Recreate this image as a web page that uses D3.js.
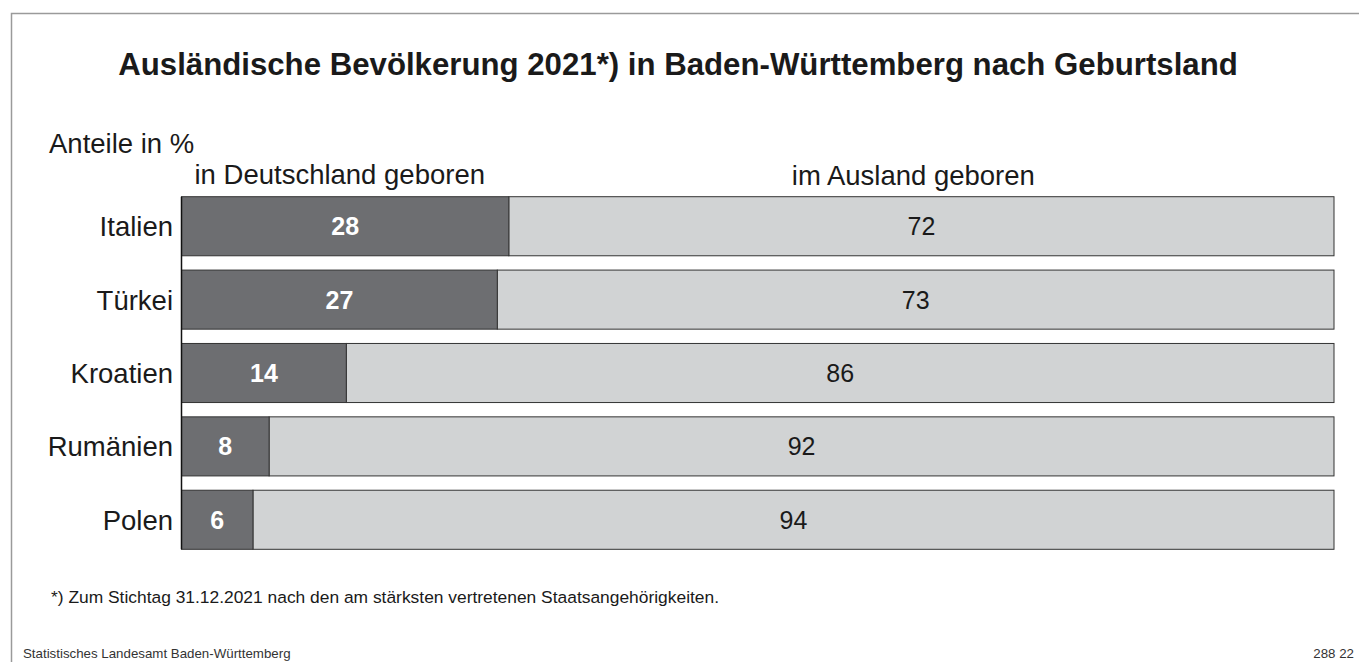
<!DOCTYPE html>
<html>
<head>
    <meta charset="utf-8">
    <title>Ausländische Bevölkerung 2021 nach Geburtsland</title>
    <script src="https://cdn.jsdelivr.net/npm/d3@7"></script>
    <style>
        body { margin: 0; background: #fff; }
        svg { display: block; font-family: "Liberation Sans", Arial, sans-serif; }
    </style>
</head>
<body>
    <div id="chart"></div>

    <script>
        // Data (shares in %)
        const countries = ["Italien", "Türkei", "Kroatien", "Rumänien", "Polen"];
        const bornInGermany = [28.4, 27.4, 14.3, 7.6, 6.2];
        const bornAbroad = [71.6, 72.6, 85.7, 92.4, 93.8];
        const labelsGermany = ["28", "27", "14", "8", "6"];
        const labelsAbroad = ["72", "73", "86", "92", "94"];

        const width = 1359, height = 662;
        const colDark = "#6d6e71", colLight = "#d1d3d4", colStroke = "#333";
        const ink = "#1a1a1a";

        const svg = d3.select("#chart").append("svg")
            .attr("width", width)
            .attr("height", height);

        // outer frame
        svg.append("rect")
            .attr("x", 11.5).attr("y", 13.5)
            .attr("width", 1400).attr("height", 700)
            .attr("fill", "none")
            .attr("stroke", "#9a9a9a")
            .attr("stroke-width", 1.5);

        const x = d3.scaleLinear().domain([0, 100]).range([181.5, 1334]);
        const y = d3.scaleBand().domain(countries).range([196.7, 549.3]).paddingInner(0.195);

        // title
        svg.append("text")
            .attr("x", 678).attr("y", 75)
            .attr("text-anchor", "middle")
            .style("font-size", "31.2px").style("font-weight", "bold").attr("fill", ink)
            .text("Ausländische Bevölkerung 2021*) in Baden-Württemberg nach Geburtsland");

        svg.append("text")
            .attr("x", 49).attr("y", 153)
            .style("font-size", "27.5px").attr("fill", ink)
            .text("Anteile in %");

        svg.append("text")
            .attr("x", x(0) + 13).attr("y", 184)
            .style("font-size", "27.5px").attr("fill", ink)
            .text("in Deutschland geboren");

        svg.append("text")
            .attr("x", x(63.5)).attr("y", 185)
            .attr("text-anchor", "middle")
            .style("font-size", "27.5px").attr("fill", ink)
            .text("im Ausland geboren");

        const rows = svg.selectAll(".row")
            .data(countries)
            .enter().append("g")
            .attr("class", "row")
            .attr("transform", d => `translate(0, ${y(d)})`);

        // light segment (born abroad)
        rows.append("rect")
            .attr("x", (d, i) => x(bornInGermany[i]))
            .attr("width", (d, i) => x(bornInGermany[i] + bornAbroad[i]) - x(bornInGermany[i]))
            .attr("height", y.bandwidth())
            .attr("fill", colLight)
            .attr("stroke", colStroke).attr("stroke-width", 1);

        // dark segment (born in Germany)
        rows.append("rect")
            .attr("x", x(0))
            .attr("width", (d, i) => x(bornInGermany[i]) - x(0))
            .attr("height", y.bandwidth())
            .attr("fill", colDark)
            .attr("stroke", colStroke).attr("stroke-width", 1);

        rows.append("text")
            .attr("x", (d, i) => (x(0) + x(bornInGermany[i])) / 2)
            .attr("y", y.bandwidth() / 2 + 9)
            .attr("text-anchor", "middle")
            .style("font-size", "25px").style("font-weight", "bold")
            .attr("fill", "#fff")
            .text((d, i) => labelsGermany[i]);

        rows.append("text")
            .attr("x", (d, i) => (x(bornInGermany[i]) + x(100)) / 2)
            .attr("y", y.bandwidth() / 2 + 9)
            .attr("text-anchor", "middle")
            .style("font-size", "25px")
            .attr("fill", ink)
            .text((d, i) => labelsAbroad[i]);

        // category labels
        rows.append("text")
            .attr("x", 173)
            .attr("y", y.bandwidth() / 2 + 10)
            .attr("text-anchor", "end")
            .style("font-size", "27.5px")
            .attr("fill", ink)
            .text(d => d);

        // axis line
        svg.append("line")
            .attr("x1", x(0)).attr("x2", x(0))
            .attr("y1", y(countries[0])).attr("y2", y(countries[countries.length - 1]) + y.bandwidth())
            .attr("stroke", "#111").attr("stroke-width", 1.5);

        // footnote
        svg.append("text")
            .attr("x", 51).attr("y", 603)
            .style("font-size", "17.4px").attr("fill", ink)
            .text("*) Zum Stichtag 31.12.2021 nach den am stärksten vertretenen Staatsangehörigkeiten.");

        svg.append("text")
            .attr("x", 23).attr("y", 658)
            .style("font-size", "13.3px").attr("fill", "#333")
            .text("Statistisches Landesamt Baden-Württemberg");

        svg.append("text")
            .attr("x", 1354).attr("y", 658)
            .attr("text-anchor", "end")
            .style("font-size", "13.3px").attr("fill", "#333")
            .text("288 22");
    </script>
</body>
</html>
